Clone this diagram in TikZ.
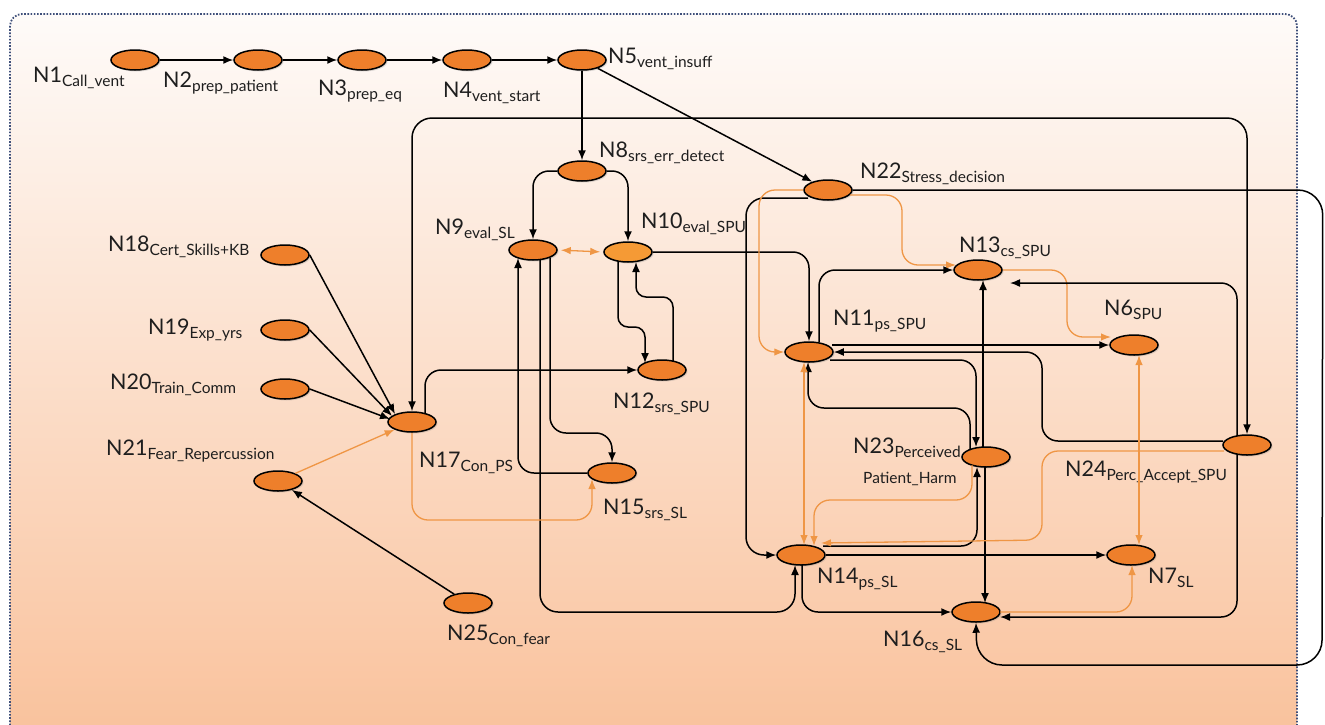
\documentclass[tikz,border=0pt]{standalone}
\usepackage{fontspec}
\setmainfont{Lato}
\usetikzlibrary{arrows.meta,calc,shadows,shapes.geometric}
\definecolor{nodeor}{HTML}{EE7F2B}
\definecolor{nodeorl}{HTML}{F59A35}
\definecolor{lineor}{HTML}{EF9645}
\definecolor{frameblue}{HTML}{3E4F7A}
\definecolor{txt}{HTML}{1E1E1E}
\definecolor{bgtop}{HTML}{FEFBF9}
\definecolor{bgmid}{HTML}{FCE5D3}
\definecolor{bgbot}{HTML}{F9C099}
\newcommand{\nlab}[2]{{\fontsize{21.5}{21.5}\selectfont #1}\raisebox{-4pt}{\fontsize{15.5}{15.5}\selectfont #2}}
\begin{document}
\begin{tikzpicture}[x=1pt,y=-1pt,
  nd/.style={ellipse, draw=black, line width=1.5pt, fill=nodeor, minimum width=48pt, minimum height=20pt, inner sep=0pt,
     drop shadow={shadow xshift=1.5pt,shadow yshift=-1.5pt,opacity=0.25,fill=gray}},
  blk/.style={draw=black, line width=1.5pt, rounded corners=16pt, -{Latex[length=10pt,width=8pt]}},
  blkb/.style={blk, {Latex[length=10pt,width=8pt]}-{Latex[length=10pt,width=8pt]}},
  org/.style={draw=lineor, line width=1.3pt, rounded corners=16pt, -{Latex[length=10pt,width=7.5pt]}},
  orgb/.style={org, {Latex[length=10pt,width=7.5pt]}-{Latex[length=10pt,width=7.5pt]}},
  lab/.style={anchor=base west, inner sep=0pt, text=txt}]
\useasboundingbox (0,0) rectangle (1325,724);
\clip (0,0) rectangle (1325,724);
\fill[white] (0,0) rectangle (1325,724);
\shade[top color=bgtop, middle color=bgmid, bottom color=bgbot, rounded corners=12pt] (10,14) rectangle (1297,760);
\draw[frameblue, line width=1.8pt, dash pattern=on 1.6pt off 1.6pt, rounded corners=12pt] (10,14) rectangle (1297,760);

% nodes
\node[nd] (N1) at (135,60) {};
\node[nd] (N2) at (258,60) {};
\node[nd] (N3) at (362,60) {};
\node[nd] (N4) at (467,60) {};
\node[nd] (N5) at (582,60) {};
\node[nd] (N8) at (582,171) {};
\node[nd] (N9) at (533,250) {};
\node[nd, fill=nodeorl] (N10) at (628,252) {};
\node[nd] (N12) at (662,370) {};
\node[nd] (N15) at (612,473) {};
\node[nd] (N17) at (412,422) {};
\node[nd] (N18) at (285,255) {};
\node[nd] (N19) at (285,330) {};
\node[nd] (N20) at (285,389) {};
\node[nd] (N21) at (278,481) {};
\node[nd] (N25) at (468,603) {};
\node[nd] (N22) at (828,190) {};
\node[nd] (N13) at (978,270) {};
\node[nd] (N11) at (809,352) {};
\node[nd] (N6) at (1134,345) {};
\node[nd] (N23) at (986,457) {};
\node[nd] (N24) at (1247,445) {};
\node[nd] (N14) at (801,555) {};
\node[nd] (N7) at (1131,555) {};
\node[nd] (N16) at (976,612) {};

% labels
\node[lab] (L1) at (33,82) {\nlab{N1}{Call\_vent}};
\node[lab] (L2) at (163,87) {\nlab{N2}{prep\_patient}};
\node[lab] (L3) at (318,95) {\nlab{N3}{prep\_eq}};
\node[lab] (L4) at (443,97) {\nlab{N4}{vent\_start}};
\node[lab] (L5) at (608,63) {\nlab{N5}{vent\_insuff}};
\node[lab] (L8) at (599,157) {\nlab{N8}{srs\_err\_detect}};
\node[lab] (L9) at (435,234) {\nlab{N9}{eval\_SL}};
\node[lab] (L10) at (641,228) {\nlab{N10}{eval\_SPU}};
\node[lab] (L22) at (860,178) {\nlab{N22}{Stress\_decision}};
\node[lab] (L13) at (959,252) {\nlab{N13}{cs\_SPU}};
\node[lab] (L11) at (833,325) {\nlab{N11}{ps\_SPU}};
\node[lab] (L6) at (1104,315) {\nlab{N6}{SPU}};
\node[lab] (L18) at (108,251) {\nlab{N18}{Cert\_Skills+KB}};
\node[lab] (L19) at (148,334) {\nlab{N19}{Exp\_yrs}};
\node[lab] (L20) at (110,389) {\nlab{N20}{Train\_Comm}};
\node[lab] (L21) at (106,455) {\nlab{N21}{Fear\_Repercussion}};
\node[lab] (L17) at (419,467) {\nlab{N17}{Con\_PS}};
\node[lab] (L12) at (613,408) {\nlab{N12}{srs\_SPU}};
\node[lab] (L15) at (603,514) {\nlab{N15}{srs\_SL}};
\node[lab] (L25) at (447,640) {\nlab{N25}{Con\_fear}};
\node[lab] (L23) at (853,453) {\nlab{N23}{Perceived}};
\node[lab] (L23b) at (863,483) {\fontsize{15.5}{15.5}\selectfont Patient\_Harm};
\node[lab] (L24) at (1065,476) {\nlab{N24}{Perc\_Accept\_SPU}};
\node[lab] (L14) at (817,583) {\nlab{N14}{ps\_SL}};
\node[lab] (L7) at (1148,583) {\nlab{N7}{SL}};
\node[lab] (L16) at (883,646) {\nlab{N16}{cs\_SL}};

% top chain
\draw[blk] (N1) -- (N2);
\draw[blk] (N2) -- (N3);
\draw[blk] (N3) -- (N4);
\draw[blk] (N4) -- (N5);
\draw[blk] (N5) -- (N8);
\draw[blk] (N5) -- (N22);
\coordinate (T1) at (830,118);
\draw[blkb, rounded corners=20pt] (N17.north) |- (T1) -| (N24.north);

% middle cluster
\draw[blk] (N8.west) -| (N9.north);
\draw[blk] (N8.east) -| (N10.north);
\draw[orgb, shorten <=3pt, shorten >=3pt] (N9.east) -- (N10.west);
\draw[blk] (N10.east) -| (N11.north);
\draw[blk, rounded corners=10pt] ($(N10)+(-10,9)$) -- ($(N10)+(-10,75)$) -- ($(N12)+(-17,-43)$) -- ($(N12)+(-17,-7)$);
\draw[blk, rounded corners=10pt] ($(N12)+(11,-9)$) -- ($(N12)+(11,-73)$) -- ($(N10)+(8,45)$) -- ($(N10)+(8,10)$);
\draw[blk] ($(N9)+(17,8)$) -- ($(N9)+(17,183)$) -- ($(N15)+(0,-40)$) -- (N15.north);
\draw[blk] (N15.west) -- ($(N15)+(-94,0)$) -- ($(N9)+(-15,8)$);
\draw[blk, rounded corners=18pt] ($(N9)+(7,10)$) -- ($(N9)+(7,362)$) -- ($(N14)+(-6,57)$) -- ($(N14)+(-6,10)$);
\draw[blk] ($(N17)+(13,-8)$) -- ($(N17)+(13,-52)$) -- (N12.west);
\draw[org] (N17.south) -- ($(N17)+(0,98)$) -- ($(N15)+(-20,47)$) -- ($(N15)+(-20,6)$);

% left inputs
\draw[org] (N21) -- (N17);
\draw[blk] (N25) -- (N21);
\draw[blk] (N18.east) -- ($(N17)+(-17,-8)$);
\draw[blk] (N19.east) -- ($(N17)+(-20,-6)$);
\draw[blk] (N20.east) -- ($(N17)+(-22,-3)$);

% right cluster
\draw[blk, rounded corners=18pt] ($(N22)+(-20,8)$) -- ($(N22)+(-82,8)$) -- ($(N14)+(-55,0)$) -- (N14.west);
\draw[org] (N22.west) -- ($(N22)+(-69,0)$) -- ($(N11)+(-50,0)$) -- (N11.west);
\draw[org] ($(N22)+(22,5)$) -- ($(N22)+(74,5)$) -- ($(N13)+(-76,-5)$) -- ($(N13)+(-22,-5)$);
\draw[blk, rounded corners=25pt] (N22.east) -- ($(N22.east)+(470,0)$) -- ($(N16)+(346,53)$) -- ($(N16)+(1,53)$) -- (N16.south);
\draw[blk] ($(N11)+(10,-10)$) |- (N13.west);
\draw[org] (N13.east) -- ($(N13)+(89,0)$) -- ($(N6)+(-67,-8)$) -- ($(N6)+(-23,-8)$);
\draw[blk] ($(N24)+(-10,-9)$) -- ($(N24)+(-10,-162)$) -- ($(N13)+(32,13)$);
\draw[blk] ($(N11)+(23,-7)$) -- (N6.west);
\draw[blk] ($(N24)+(-24,-4)$) -- ($(N24)+(-205,-4)$) -- ($(N11)+(233,0)$) -- (N11.east);
\draw[blk] ($(N11)+(21,8)$) -- ($(N23)+(-10,-97)$) -- ($(N23)+(-10,-10)$);
\draw[blk] ($(N23)+(-16,-7)$) -- ($(N23)+(-16,-49)$) -- ($(N11)+(-1,56)$) -- ($(N11)+(-1,10)$);
\draw[blk] ($(N23)+(-3,-10)$) -- ($(N13)+(5,10)$);
\draw[blk] ($(N23)+(-1,10)$) -- ($(N16)+(9,-9)$);
\draw[blk] ($(N14)+(22,-9)$) -- ($(N23)+(-9,89)$) -- ($(N23)+(-9,10)$);
\draw[org] ($(N23)+(-14,8)$) -- ($(N23)+(-14,43)$) -- ($(N14)+(13,-55)$) -- ($(N14)+(13,-9)$);
\draw[orgb] ($(N11)+(-5,10)$) -- ($(N14)+(3,-10)$);
\draw[org] ($(N24)+(-23,6)$) -- ($(N24)+(-205,6)$) -- ($(N14)+(241,-15)$) -- ($(N14)+(20,-12)$);
\draw[blk] (N14.east) -- (N7.west);
\draw[blk] ($(N14)+(1,10)$) -- ($(N14)+(1,57)$) -- (N16.west);
\draw[blk] ($(N24)+(-10,9)$) -- ($(N24)+(-10,172)$) -- ($(N16)+(24,5)$);
\draw[org] ($(N16)+(24,0)$) -- ($(N7)+(1,57)$) -- ($(N7)+(1,10)$);
\draw[orgb] ($(N6)+(5,10)$) -- ($(N7)+(8,-10)$);
\end{tikzpicture}
\end{document}
